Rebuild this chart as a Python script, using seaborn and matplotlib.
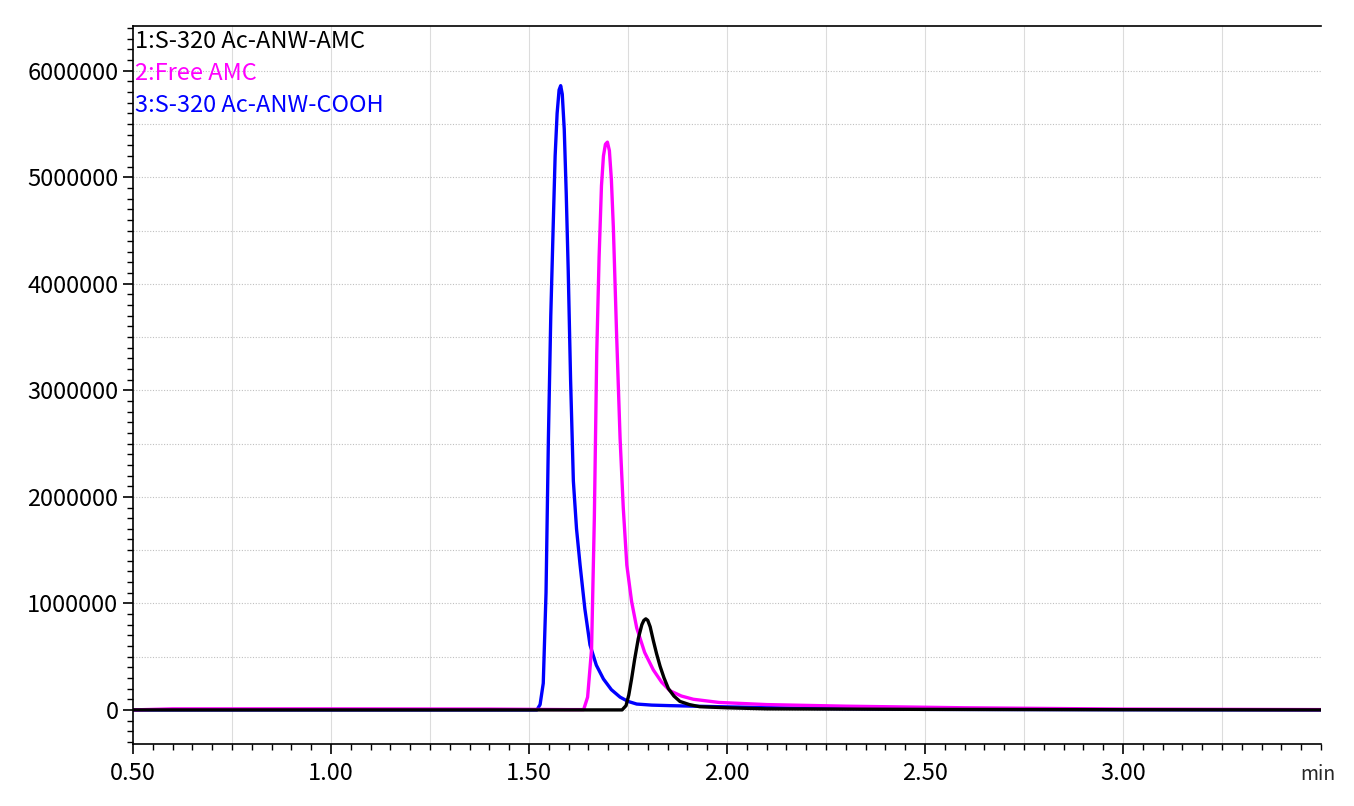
import numpy as np
import pandas as pd
import seaborn as sns
import matplotlib
matplotlib.use("Agg")
import matplotlib.pyplot as plt
from matplotlib.ticker import MultipleLocator, FixedLocator

sns.set_style("ticks")
plt.rcParams['font.family'] = ['Noto Sans CJK JP', 'DejaVu Sans']

names = ["1:S-320 Ac-ANW-AMC", "2:Free AMC", "3:S-320 Ac-ANW-COOH"]
colors = ["#000000", "#ff00ff", "#0000ff"]

black_t = [0.50, 1.00, 1.50, 1.735, 1.745, 1.752, 1.759, 1.767, 1.776, 1.785, 1.790, 1.795, 1.800, 1.806, 1.814, 1.822, 1.831, 1.841, 1.852, 1.866, 1.881, 1.905, 1.931, 2.00, 2.10, 2.50, 3.00, 3.50]
black_v = [0, 0, 0, 0, 0.04e6, 0.14e6, 0.29e6, 0.48e6, 0.67e6, 0.80e6, 0.84e6, 0.855e6, 0.84e6, 0.78e6, 0.65e6, 0.53e6, 0.41e6, 0.30e6, 0.20e6, 0.13e6, 0.08e6, 0.05e6, 0.03e6, 0.02e6, 0.01e6, 0.005e6, 0.002e6, 0]

mag_t = [0.50, 0.60, 1.00, 1.40, 1.60, 1.638, 1.648, 1.658, 1.665, 1.671, 1.677, 1.683, 1.688, 1.693, 1.698, 1.703, 1.708, 1.713, 1.721, 1.730, 1.738, 1.747, 1.759, 1.772, 1.792, 1.814, 1.835, 1.856, 1.885, 1.915, 1.98, 2.10, 2.30, 2.60, 3.00, 3.50]
mag_v = [0, 0.01e6, 0.01e6, 0.008e6, 0.003e6, 0.003e6, 0.12e6, 0.57e6, 1.80e6, 3.34e6, 4.25e6, 4.92e6, 5.20e6, 5.31e6, 5.33e6, 5.25e6, 4.98e6, 4.53e6, 3.55e6, 2.55e6, 1.90e6, 1.36e6, 1.02e6, 0.77e6, 0.54e6, 0.375e6, 0.26e6, 0.18e6, 0.13e6, 0.10e6, 0.07e6, 0.05e6, 0.035e6, 0.02e6, 0.008e6, 0.003e6]

blue_t = [0.50, 1.00, 1.50, 1.520, 1.528, 1.536, 1.543, 1.549, 1.555, 1.561, 1.566, 1.571, 1.576, 1.580, 1.584, 1.589, 1.594, 1.599, 1.605, 1.612, 1.620, 1.629, 1.641, 1.654, 1.670, 1.688, 1.708, 1.730, 1.750, 1.772, 1.810, 1.856, 1.982, 2.20, 2.50, 3.00, 3.50]
blue_v = [0, 0, 0, 0, 0.05e6, 0.25e6, 1.10e6, 2.55e6, 3.70e6, 4.53e6, 5.20e6, 5.60e6, 5.82e6, 5.86e6, 5.78e6, 5.45e6, 4.85e6, 4.13e6, 3.10e6, 2.15e6, 1.70e6, 1.36e6, 0.95e6, 0.61e6, 0.42e6, 0.29e6, 0.19e6, 0.12e6, 0.08e6, 0.055e6, 0.045e6, 0.04e6, 0.03e6, 0.015e6, 0.005e6, 0.002e6, 0]

fig = plt.figure(figsize=(13.54, 8.06), dpi=100)
ax = fig.add_axes([133/1354, 1 - 744/806, (1321-133)/1354, (744-26)/806])

for t, v, c in [(blue_t, blue_v, colors[2]), (mag_t, mag_v, colors[1]), (black_t, black_v, colors[0])]:
    df = pd.DataFrame({"t": t, "v": v})
    sns.lineplot(data=df, x="t", y="v", color=c, lw=2.4, sort=False, estimator=None, ax=ax)

ax.set_xlim(0.5, 3.5)
ax.set_ylim(-0.32e6, 6.42e6)
ax.set_xlabel("")
ax.set_ylabel("")
ax.xaxis.set_major_locator(FixedLocator([0.5, 1.0, 1.5, 2.0, 2.5, 3.0]))
ax.set_xticklabels(["0.50", "1.00", "1.50", "2.00", "2.50", "3.00"])
ax.xaxis.set_minor_locator(MultipleLocator(0.05))
ax.set_yticks(np.arange(0, 6.01e6, 1e6))
ax.set_yticklabels([str(int(v)) for v in np.arange(0, 6.01e6, 1e6)])
ax.yaxis.set_minor_locator(MultipleLocator(1e5))
ax.tick_params(axis="both", which="major", direction="out", length=7, width=1.2, labelsize=17, color="black", labelcolor="black")
ax.tick_params(axis="both", which="minor", direction="out", length=4, width=1, color="black")
ax.tick_params(axis="x", which="major", pad=6)

for gx in np.arange(0.75, 3.5, 0.25):
    ax.axvline(gx, color="#dcdcdc", lw=0.8, zorder=0)
for gy in np.arange(0.5e6, 6.42e6, 0.5e6):
    ax.axhline(gy, color="#c0c0c0", lw=0.8, ls=(0, (1, 1.5)), zorder=0)
ax.axhline(0, color="#c8c8c8", lw=0.8, ls=(0, (1, 1.5)), zorder=0)

for s in ["left", "bottom", "top"]:
    ax.spines[s].set_color("black")
    ax.spines[s].set_linewidth(1.2)
ax.spines["right"].set_visible(False)

for i, (n, c) in enumerate(zip(names, colors)):
    ax.text(0.002, 0.995 - i * 0.045, n, color=c, fontsize=17, transform=ax.transAxes, va="top", ha="left")

fig.text(1318/1354, 1 - 775/806, "min", fontsize=14, ha="center", va="center")

fig.savefig("out.png", dpi=100)
